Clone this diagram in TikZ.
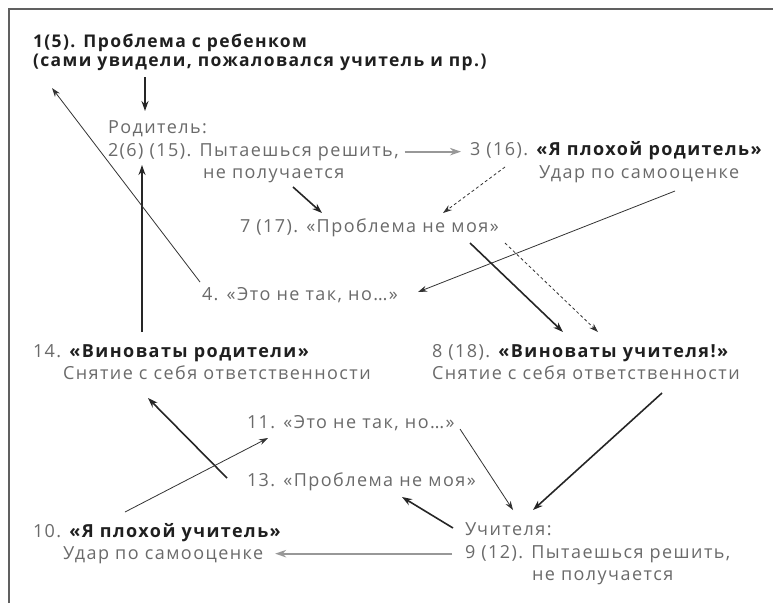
\documentclass[tikz,border=0pt]{standalone}
\usepackage{fontspec}
\setmainfont{Open Sans}[LetterSpace=8]
\usetikzlibrary{arrows.meta}
\definecolor{txtgray}{HTML}{6A6A6A}
\definecolor{linegray}{HTML}{989898}
\definecolor{framegray}{HTML}{606060}
\newcommand{\hl}[1]{{\color{black!88}\bfseries #1}}
\begin{document}
\begin{tikzpicture}[x=1pt, y=-1pt, font=\fontsize{18}{22}\selectfont,
	every node/.style={anchor=base west, inner sep=0pt, outer sep=0pt, text=txtgray},
	ttl/.style={font=\fontsize{17.5}{22}\selectfont},
	thk/.style={line width=1.6pt, black!85, -{Stealth[length=10pt, width=7pt]}},
	thn/.style={line width=0.8pt, black!80, -{Stealth[length=9pt, width=6pt]}},
	dsh/.style={thn, dash pattern=on 3pt off 2.5pt},
	gry/.style={line width=1.9pt, linegray, -{Stealth[length=11pt, width=7.5pt]}}]
	\useasboundingbox (0,0) rectangle (773,603);
	\draw[framegray, line width=1.2pt] (9,603) -- (9,9) -- (773,9);

	% Родитель
	\node[ttl] (t1) at (33, 47) {\hl{1(5). Проблема с ребенком}};
	\node[ttl] (t2) at (33, 66) {\hl{(сами увидели, пожаловался учитель и пр.)}};
	\node (rod) at (108, 133) {Родитель:};
	\node (p2) at (108, 156) {2(6) (15). Пытаешься решить,};
	\node (p2b) at (203, 178) {не получается};
	\node (p3) at (470, 155) {3 (16). \hl{«Я плохой родитель»}};
	\node (p3b) at (539, 178) {Удар по самооценке};
	\node (p7) at (240, 232) {7 (17). «Проблема не моя»};
	\node (p4) at (202, 300) {4. «Это не так, но…»};
	\node (p8) at (432, 357) {8 (18). \hl{«Виноваты учителя!»}};
	\node (p8b) at (432, 379) {Снятие с себя ответственности};
	\node (p14) at (33, 357) {14. \hl{«Виноваты родители»}};
	\node (p14b) at (63, 379) {Снятие с себя ответственности};

	% Учителя
	\node (p11) at (247, 428) {11. «Это не так, но…»};
	\node (p13) at (247, 486) {13. «Проблема не моя»};
	\node (p10) at (33, 537) {10. \hl{«Я плохой учитель»}};
	\node (p10b) at (63, 559) {Удар по самооценке};
	\node (uch) at (465, 535) {Учителя:};
	\node (p9) at (465, 558) {9 (12). Пытаешься решить,};
	\node (p9b) at (532, 580) {не получается};

	\draw[thk] ([shift={(112,11)}]t2.base west) -- ([shift={(37,-22)}]rod.base west);
	\draw[gry, shorten <=6pt, shorten >=9pt] (p2.east) -- (p2.east -| p3.west);
	\draw[thk] ([shift={(90,9)}]p2b.base west) -- ([shift={(82,-19)}]p7.base west);
	\draw[dsh] ([shift={(35,12)}]p3.base west) -- ([shift={(203,-19)}]p7.base west);
	\draw[thn] ([shift={(136,13)}]p3b.base west) -- ([shift={(216,-8)}]p4.base west);
	\draw[thk] ([shift={(230,11)}]p7.base west) -- ([shift={(131,-25)}]p8.base west);
	\draw[dsh] ([shift={(265,11)}]p7.base west) -- ([shift={(166,-25)}]p8.base west);
	\draw[thk] ([shift={(109,-25)}]p14.base west) -- ([shift={(34,9)}]p2.base west);
	\draw[thn] ([shift={(-2,-18)}]p4.base west) -- ([shift={(19,22)}]t2.base west);
	\draw[thk] ([shift={(230,14)}]p8b.base west) -- ([shift={(68,-25)}]uch.base west);
	\draw[thn] ([shift={(213,1)}]p11.base west) -- ([shift={(48,-25)}]uch.base west);
	\draw[thk] ([shift={(-12,-7)}]uch.base west) -- ([shift={(155,11)}]p13.base west);
	\draw[thk] ([shift={(-20,-8)}]p13.base west) -- ([shift={(85,19)}]p14b.base west);
	\draw[thn] ([shift={(92,-25)}]p10.base west) -- ([shift={(21,10)}]p11.base west);
	\draw[gry, shorten <=13pt, shorten >=12pt] (p9.west) -- (p9.west -| p10b.east);
\end{tikzpicture}
\end{document}
